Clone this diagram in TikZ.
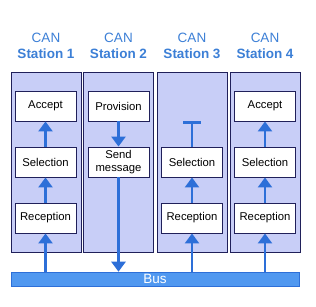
\documentclass[tikz,border=0pt]{standalone}
\usepackage{fontspec}
\setmainfont{Liberation Sans}
\usetikzlibrary{arrows.meta,positioning}

\definecolor{panelfill}{HTML}{C8CEF7}
\definecolor{navy}{HTML}{20205A}
\definecolor{titleblue}{HTML}{3C7FD6}
\definecolor{flowblue}{HTML}{2D6FD8}
\definecolor{busblue}{HTML}{5098F0}

\tikzset{
  panel/.style={draw=navy, fill=panelfill, line width=0.9pt,
    minimum width=70pt, minimum height=180pt, inner sep=0pt},
  stepbox/.style={draw=navy, fill=white, line width=0.9pt,
    minimum width=61pt, minimum height=30pt, inner sep=1pt, align=center,
    font=\fontsize{11.3}{12.5}\selectfont},
  title/.style={text=titleblue, align=center,
    font=\fontsize{13.5}{15.5}\selectfont},
  bus/.style={draw=flowblue, fill=busblue, line width=0.6pt, text=white,
    minimum width=288pt, minimum height=14pt, inner sep=0pt,
    font=\fontsize{13.5}{15}\selectfont},
  flow/.style={draw=flowblue, line width=2.6pt,
    -{Triangle[width=14pt,length=10pt]}},
  blocked/.style={draw=flowblue, line width=2.6pt,
    -{Bar[width=18pt,line width=3pt]}}
}

\begin{document}
\begin{tikzpicture}[x=1pt, y=-1pt]
  \useasboundingbox (0,0) rectangle (316,306);

  % Station panels
  \node[panel] (st1) at (46,162) {};
  \node[panel] (st2) at (118.5,162) {};
  \node[panel] (st3) at (192,162) {};
  \node[panel] (st4) at (265,162) {};

  % Station titles
  \node[title] (t1) at (46,46) {CAN\\\textbf{Station 1}};
  \node[title] (t2) at (118.5,46) {CAN\\\textbf{Station 2}};
  \node[title] (t3) at (192,46) {CAN\\\textbf{Station 3}};
  \node[title] (t4) at (265,46) {CAN\\\textbf{Station 4}};

  % Bus
  \node[bus] (bus) at (155,279) {Bus};

  % Station 1
  \node[stepbox] (acc1) at (45.5,106) {Accept};
  \node[stepbox] (sel1) at (45.5,162) {Selection};
  \node[stepbox] (rec1) at (45.5,218) {Reception};

  % Station 2
  \node[stepbox] (prov2) at (118.5,106) {Provision};
  \node[stepbox] (send2) at (118.5,162) {Send\\message};

  % Station 3
  \node[stepbox] (sel3) at (192,162) {Selection};
  \node[stepbox] (rec3) at (192,218) {Reception};
  \coordinate (stop3) at (192,121);

  % Station 4
  \node[stepbox] (acc4) at (265,106) {Accept};
  \node[stepbox] (sel4) at (265,162) {Selection};
  \node[stepbox] (rec4) at (265,218) {Reception};

  % Flow of the message
  \draw[flow] (bus.north -| rec1) -- (rec1);
  \draw[flow] (rec1) -- (sel1);
  \draw[flow] (sel1) -- (acc1);

  \draw[flow] (prov2) -- (send2);
  \draw[flow] (send2) -- (send2 |- bus.north);

  \draw[flow] (bus.north -| rec3) -- (rec3);
  \draw[flow] (rec3) -- (sel3);
  \draw[blocked] (sel3) -- (stop3);

  \draw[flow] (bus.north -| rec4) -- (rec4);
  \draw[flow] (rec4) -- (sel4);
  \draw[flow] (sel4) -- (acc4);

\end{tikzpicture}
\end{document}
